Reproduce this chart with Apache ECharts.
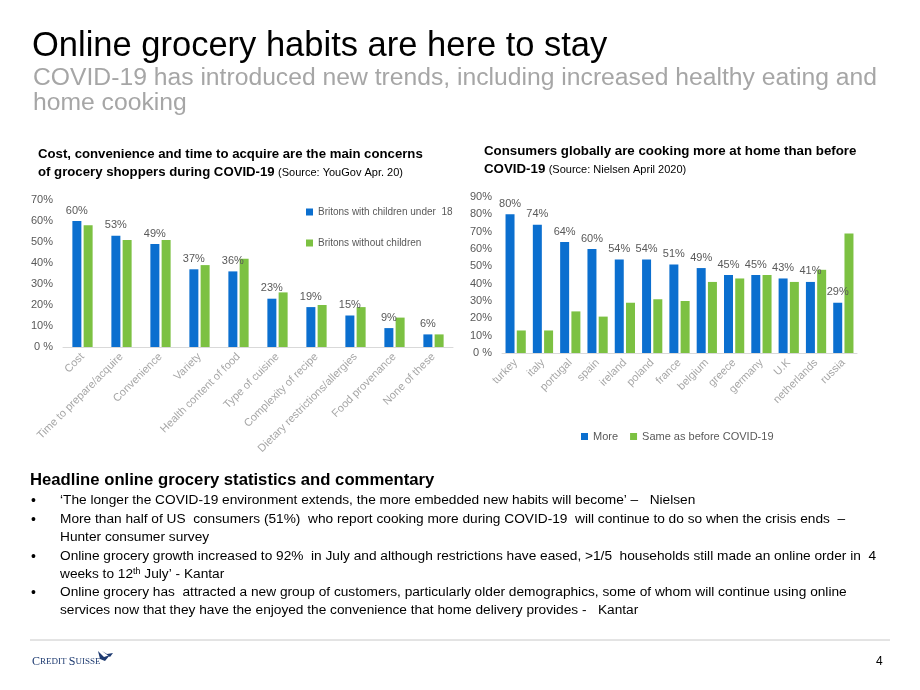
<!DOCTYPE html>
<html><head><meta charset="utf-8">
<script src="https://cdn.jsdelivr.net/npm/echarts@6/dist/echarts.min.js"></script>
<style>html,body{margin:0;padding:0;background:#fff}#c{width:920px;height:690px}</style>
</head><body><div id="c"></div>
<script>
const leftCats = ['Cost','Time to prepare/acquire','Convenience','Variety','Health content of food','Type of cuisine','Complexity of recipe','Dietary restrictions/allergies','Food provenance','None of these'];
const leftWithKids = [60,53,49,37,36,23,19,15,9,6];
const leftWithoutKids = [58,51,51,39,42,26,20,19,14,6];
const rightCats = ['turkey','italy','portugal','spain','ireland','poland','france','belgium','greece','germany','U.K','netherlands','russia'];
const rightMore = [80,74,64,60,54,54,51,49,45,45,43,41,29];
const rightSame = [13,13,24,21,29,31,30,41,43,45,41,48,69];
const leftSeriesNames = ['Britons with children under  18','Britons without children'];
const rightSeriesNames = ['More','Same as before COVID-19'];
const bullets = [
  ['‘The longer the COVID-19 environment extends, the more embedded new habits will become’ –   Nielsen'],
  ['More than half of US  consumers (51%)  who report cooking more during COVID-19  will continue to do so when the crisis ends  –','Hunter consumer survey'],
  ['Online grocery growth increased to 92%  in July and although restrictions have eased, >1/5  households still made an online order in  4','{n|weeks to 12}{s|th}{n| July’ - Kantar}'],
  ['Online grocery has  attracted a new group of customers, particularly older demographics, some of whom will continue using online','services now that they have the enjoyed the convenience that home delivery provides -   Kantar']
];

const BLUE = '#0b6fcf', GREEN = '#7cc142';
const chart = echarts.init(document.getElementById('c'));
const FONT = 'Liberation Sans, Arial, sans-serif';
const pct = v => v === 0 ? '0 %' : v + '%';

const graphics = [
  {type:'text', left:32, top:29, style:{text:'Online grocery habits are here to stay', font:'34.5px ' + FONT, fill:'#000'}},
  {type:'text', left:33, top:66, style:{text:'COVID-19 has introduced new trends, including increased healthy eating and\nhome cooking', font:'24.7px ' + FONT, fill:'#a6a6a6', lineHeight:25}},
  {type:'text', left:38, top:148, style:{text:'{b|Cost, convenience and time to acquire are the main concerns}\n{b|of grocery shoppers during COVID-19} {s|(Source: YouGov Apr. 20)}',
     rich:{b:{font:'bold 13.2px ' + FONT, fill:'#000', lineHeight:18}, s:{font:'11px ' + FONT, fill:'#000', lineHeight:18}}}},
  {type:'text', left:484, top:145, style:{text:'{b|Consumers globally are cooking more at home than before}\n{b|COVID-19} {s|(Source: Nielsen April 2020)}',
     rich:{b:{font:'bold 13.3px ' + FONT, fill:'#000', lineHeight:18}, s:{font:'11px ' + FONT, fill:'#000', lineHeight:18}}}},
  {type:'text', left:30, top:472, style:{text:'Headline online grocery statistics and commentary', font:'bold 16.7px ' + FONT, fill:'#000'}},
  {type:'line', shape:{x1:30, y1:640, x2:890, y2:640}, style:{stroke:'#c8c8c8', lineWidth:1}},
  {type:'text', left:876, top:656, style:{text:'4', font:'12px ' + FONT, fill:'#000'}},
  {type:'text', left:32, top:656, style:{text:'{c|C}{r|REDIT }{c|S}{r|UISSE}', rich:{c:{font:'12px Liberation Serif, serif', fill:'#1d3a70'}, r:{font:'9px Liberation Serif, serif', fill:'#1d3a70'}}}},
  {type:'polygon', shape:{points:[[98,651],[104,657],[110,655],[105,661],[100,659]]}, style:{fill:'#1d3a70'}},
  {type:'polygon', shape:{points:[[102,651],[107,654],[113,653],[110,657]]}, style:{fill:'#1d3a70'}}
];
const ys = [[502,null],[521,539],[558,576],[594,612]];
bullets.forEach((b, i) => {
  graphics.push({type:'text', left:31, top:ys[i][0]-8, style:{text:'•', font:'14px ' + FONT, fill:'#000'}});
  b.forEach((line, j) => {
    const y = ys[i][j];
    graphics.push({type:'text', left:60, top:y-9, style:{text:line, font:'13.7px ' + FONT, fill:'#000',
      rich:{n:{font:'13.7px ' + FONT, fill:'#000'}, s:{font:'9px ' + FONT, fill:'#000', verticalAlign:'top', padding:[0,0,6,0]}}}});
  });
});

const xLab = {rotate:45, interval:0, color:'#a6a6a6', fontSize:11, fontFamily:FONT, margin:8};
const yLab = {color:'#595959', fontSize:11, fontFamily:FONT, formatter:pct, margin:10};
const lab = {show:true, position:'top', formatter:p => p.value + '%', color:'#595959', fontSize:11, fontFamily:FONT, distance:5};

chart.setOption({
  animation:false,
  textStyle:{fontFamily:FONT},
  graphic:graphics,
  grid:[
    {left:63, top:200, width:390, height:147},
    {left:502, top:197, width:355, height:156}
  ],
  legend:[
    {data:leftSeriesNames, orient:'vertical', left:301, top:202, itemGap:21, itemWidth:7, itemHeight:7, icon:'rect',
     textStyle:{color:'#595959', fontSize:10, fontFamily:FONT}},
    {data:rightSeriesNames, orient:'horizontal', left:576, top:426, itemGap:12, itemWidth:7, itemHeight:7, icon:'rect',
     textStyle:{color:'#595959', fontSize:11, fontFamily:FONT}}
  ],
  xAxis:[
    {type:'category', gridIndex:0, data:leftCats, axisLabel:xLab, axisTick:{show:false}, axisLine:{lineStyle:{color:'#d9d9d9'}}},
    {type:'category', gridIndex:1, data:rightCats, axisLabel:xLab, axisTick:{show:false}, axisLine:{lineStyle:{color:'#d9d9d9'}}}
  ],
  yAxis:[
    {type:'value', gridIndex:0, min:0, max:70, interval:10, axisLabel:yLab, splitLine:{show:false}, axisLine:{show:false}, axisTick:{show:false}},
    {type:'value', gridIndex:1, min:0, max:90, interval:10, axisLabel:yLab, splitLine:{show:false}, axisLine:{show:false}, axisTick:{show:false}}
  ],
  series:[
    {name:leftSeriesNames[0], type:'bar', xAxisIndex:0, yAxisIndex:0, data:leftWithKids, itemStyle:{color:BLUE}, barWidth:9, barGap:'25%', label:lab},
    {name:leftSeriesNames[1], type:'bar', xAxisIndex:0, yAxisIndex:0, data:leftWithoutKids, itemStyle:{color:GREEN}, barWidth:9},
    {name:rightSeriesNames[0], type:'bar', xAxisIndex:1, yAxisIndex:1, data:rightMore, itemStyle:{color:BLUE}, barWidth:9, barGap:'25%', label:lab},
    {name:rightSeriesNames[1], type:'bar', xAxisIndex:1, yAxisIndex:1, data:rightSame, itemStyle:{color:GREEN}, barWidth:9}
  ]
});
</script></body></html>
